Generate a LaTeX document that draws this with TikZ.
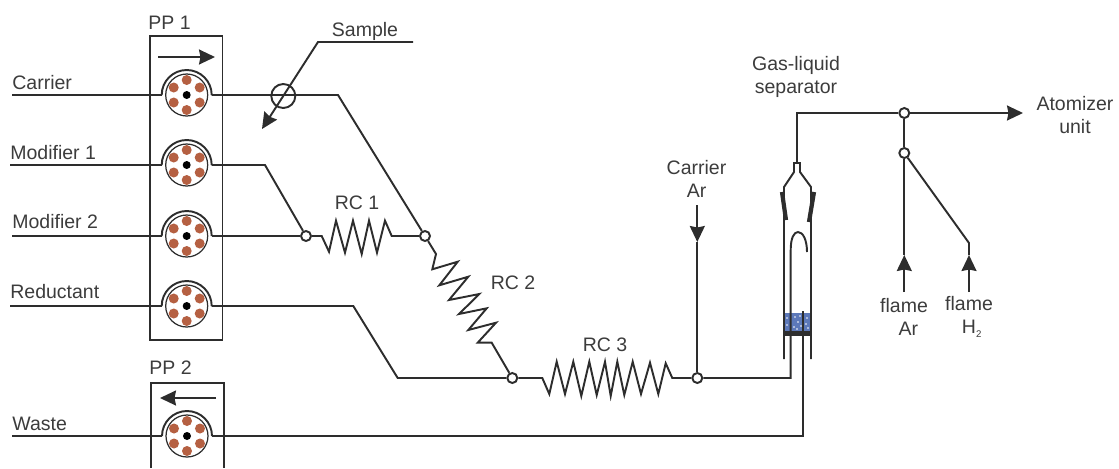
\documentclass[tikz,border=0pt]{standalone}
\usepackage{fontspec}
\setmainfont{Liberation Sans}
\usetikzlibrary{calc}
\usetikzlibrary{arrows.meta}
\definecolor{linegray}{RGB}{45,45,45}
\definecolor{textgray}{RGB}{60,60,60}
\definecolor{brown}{RGB}{181,96,66}
\definecolor{frit}{RGB}{92,120,185}
\tikzset{
    pipe/.style={draw=linegray, line width=1.1pt},
    flowarrow/.style={pipe, -{Stealth[length=0.32cm, width=0.3cm, inset=0.03cm]}},
    junction/.style={circle, draw=linegray, line width=1.1pt, fill=white, inner sep=0pt, minimum size=0.2cm},
    tag/.style={font=\fontsize{11.1}{13}\selectfont, text=textgray, align=center, inner sep=0pt},
    roller/.style={circle, fill=brown, inner sep=0pt, minimum size=0.2cm},
    hub/.style={circle, fill=black, inner sep=0pt, minimum size=0.16cm},
    rotor/.style={circle, draw=linegray, line width=0.7pt, fill=white, inner sep=0pt, minimum size=0.84cm},
}
\newcommand{\pumphead}[3]{
    \node[rotor] (#1) at (#2, #3) {};
    \foreach \a in {30, 90, 150, 210, 270, 330}
        \node[roller] at ($(#1) + (\a:15)$) {};
    \node[hub] at (#1) {};
    \coordinate (#1w) at (#2 - 25, #3);
    \coordinate (#1e) at (#2 + 25, #3);
    \draw[pipe] (#1w) arc[start angle=180, end angle=360, radius=25];
}

\begin{document}
\begin{tikzpicture}[x=0.02cm, y=-0.02cm]
    \useasboundingbox (0, 0) rectangle (1119, 468);

    \draw[pipe] (150, 36) rectangle (222.5, 340);
    \draw[pipe] (151, 468) -- (151, 383) -- (224, 383) -- (224, 468);
    \coordinate (ppa) at (158, 57);
    \coordinate (ppb) at (215, 57);
    \coordinate (ppc) at (216, 398);
    \coordinate (ppd) at (160, 398);
    \draw[flowarrow] (ppa) -- (ppb);
    \draw[flowarrow] (ppc) -- (ppd);

    \pumphead{pump1}{186.7}{95}
    \pumphead{pump2}{186.7}{165}
    \pumphead{pump3}{186.7}{236}
    \pumphead{pump4}{186.7}{306}
    \pumphead{pump5}{187}{436}

    \node[tag, anchor=west] (pp1) at (148, 23) {PP 1};
    \node[tag, anchor=west] (pp2) at (149, 368) {PP 2};
    \node[tag, anchor=west] (carrier) at (12, 83) {Carrier};
    \node[tag, anchor=west] (modone) at (10, 153) {Modifier 1};
    \node[tag, anchor=west] (modtwo) at (12, 222) {Modifier 2};
    \node[tag, anchor=west] (reductant) at (10, 292) {Reductant};
    \node[tag, anchor=west] (waste) at (12, 424) {Waste};
    \node[tag] (sample) at (365, 31) {Sample};
    \node[tag] (rcone) at (357, 203) {RC 1};
    \node[tag] (rctwo) at (513, 283) {RC 2};
    \node[tag] (rcthree) at (605, 345) {RC 3};
    \node[tag] (carrierar) at (696.5, 179) {Carrier\\Ar};
    \node[tag] (separator) at (796, 77) {Gas-liquid\\separator};
    \node[tag] (atomizer) at (1075, 115) {Atomizer\\unit};
    \node[tag] (flamear) at (904, 317) {flame\\\hspace*{5pt}Ar};
    \node[tag] (flameh) at (969, 317) {flame\\\hspace*{3pt}H{\fontsize{5.5}{6}\selectfont\raisebox{-2pt}{2}}};

    \node[junction] (j1) at (306, 236) {};
    \node[junction] (j2) at (425, 236) {};
    \node[junction] (j3) at (512.3, 378) {};
    \node[junction] (j4) at (697.3, 378) {};
    \node[junction] (j5) at (904.3, 113) {};
    \node[junction] (j6) at (904.3, 153) {};

    \fill[frit] (784, 313) rectangle (811, 331);
    \foreach \x/\y in {787/318, 787/325, 795/317, 798/322, 794/327, 800/316, 801/326, 797/329, 807/318, 806/324, 808/328}
        \fill[white] (\x, \y) circle (0.8);

    \coordinate (incarrier) at (12, 95);
    \coordinate (inmodone) at (10, 165);
    \coordinate (inmodtwo) at (12, 236);
    \coordinate (inreductant) at (10, 306);
    \coordinate (outwaste) at (12, 436);
    \draw[pipe] (incarrier) -- (pump1w);
    \draw[pipe] (inmodone) -- (pump2w);
    \draw[pipe] (inmodtwo) -- (pump3w);
    \draw[pipe] (inreductant) -- (pump4w);
    \draw[pipe] (outwaste) -- (pump5w);

    \draw[pipe] (pump1e) -- (338, 95) -- (j2);
    \draw[pipe] (pump2e) -- (265, 165) -- (j1);
    \draw[pipe] (pump3e) -- (j1);
    \draw[pipe] (pump4e) -- (353.3, 306) -- (397.7, 378) -- (j3);
    \draw[pipe] (pump5e) -- (803, 436) -- (803, 311);

    \draw[pipe] (j1) -- (321.7, 236) -- (329, 251.7) -- (336, 220.7) -- (345, 252.7) -- (353, 220.7) -- (361.7, 254) -- (369, 220.7) -- (377, 252.7) -- (385, 220.7) -- (391.7, 236) -- (j2);
    \draw[pipe] (j2) -- (436, 254) -- (432.3, 269.3) -- (457.7, 261.7) -- (439.3, 285.3) -- (468.3, 276.7) -- (449, 300) -- (479.3, 294) -- (459, 314) -- (486.7, 308.3) -- (468.3, 330) -- (496, 322.7) -- (477.7, 342.7) -- (491.7, 342.7) -- (j3);
    \draw[pipe] (j3) -- (542.3, 378) -- (549.3, 394) -- (556.7, 361.7) -- (565, 394) -- (573.3, 361.7) -- (581.3, 396) -- (589.3, 361.7) -- (596.7, 395) -- (605, 361.7) -- (610.7, 396) -- (617.3, 361.7) -- (624.3, 395) -- (632.7, 361.7) -- (641, 394) -- (650, 362.7) -- (658.3, 394) -- (665.7, 363.3) -- (672.3, 378) -- (j4);
    \draw[pipe] (j4) -- (790.7, 378) -- (790.7, 250) .. controls (790.7, 238) and (794, 232) .. (798, 232) .. controls (803, 232) and (807, 240) .. (807, 252);

    \coordinate (arin) at (697.3, 205);
    \coordinate (artip) at (697.3, 242);
    \draw[pipe] (artip) -- (j4);
    \draw[flowarrow] (arin) -- (artip);

    \coordinate (samplea) at (413, 42);
    \coordinate (sampleb) at (318, 42);
    \coordinate (samplec) at (262, 129);
    \node[circle, draw=linegray, line width=1.1pt, inner sep=0pt, minimum size=0.48cm] (valve) at (283.3, 96) {};
    \draw[flowarrow] (samplea) -- (sampleb) -- (samplec);

    \fill[linegray] (784, 331) rectangle (811, 336);
    \draw[pipe] (784, 359) -- (784, 187) -- (794, 172) -- (794, 163) -- (800, 163) -- (800, 172) -- (811, 187) -- (811, 359);
    \draw[line width=2.4pt, draw=linegray] (782, 192) -- (786, 220);
    \draw[line width=2.4pt, draw=linegray] (814, 192) -- (809, 222);
    \draw[pipe] (797, 163) -- (797, 113) -- (j5);

    \coordinate (outatom) at (1023, 113);
    \draw[flowarrow] (j5) -- (outatom);
    \draw[pipe] (j5) -- (j6);

    \coordinate (arflame) at (904.3, 292);
    \coordinate (arflametip) at (904.3, 255);
    \coordinate (hflame) at (969, 292);
    \coordinate (hflametip) at (969, 255);
    \draw[pipe] (arflametip) -- (j6);
    \draw[flowarrow] (arflame) -- (arflametip);
    \draw[pipe] (hflametip) -- (969, 243) -- (j6);
    \draw[flowarrow] (hflame) -- (hflametip);
\end{tikzpicture}
\end{document}
